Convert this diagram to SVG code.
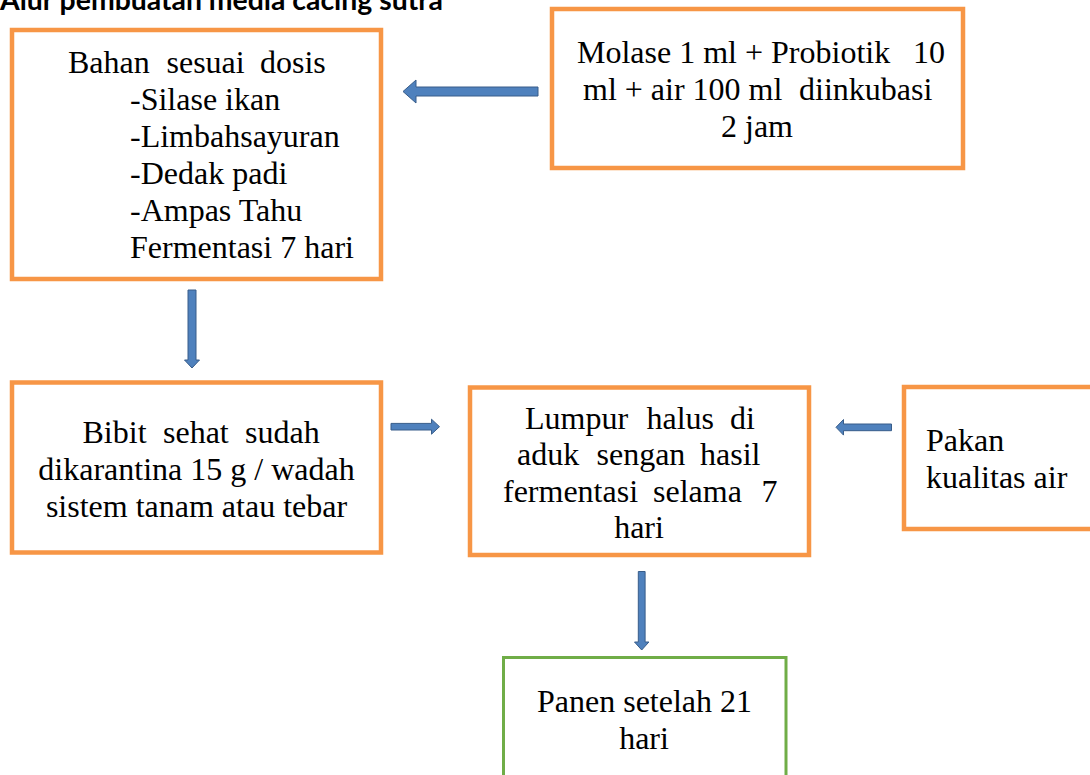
<svg xmlns="http://www.w3.org/2000/svg" width="1090" height="775" viewBox="0 0 1090 775">
<style>
.box{fill:#fff;stroke:#F79646;stroke-width:4.5}
.gbox{fill:#fff;stroke:#70AD47;stroke-width:3}
.t{font-family:"Liberation Serif","Times New Roman",serif;font-size:32px;fill:#000}
.c{text-anchor:middle}
.arr{fill:#4F81BD;stroke:#385D8A;stroke-width:1}
.title{font-family:Lato,"Open Sans",sans-serif;font-weight:bold;font-size:29px;fill:#000}
</style>
<rect width="1090" height="775" fill="#fff"/>
<text class="title" x="0" y="10" textLength="443" lengthAdjust="spacingAndGlyphs">Alur pembuatan media cacing sutra</text>

<g id="connectors">
<path class="arr" d="M538,87 L416,87 L416,80 L403,91.5 L416,103 L416,96 L538,96 Z"/>
<path class="arr" d="M188,290 L196,290 L196,360 L199.5,360 L192,368 L184.5,360 L188,360 Z"/>
<path class="arr" d="M391,423.4 L431.5,423.4 L431.5,419.2 L439.5,426.7 L431.5,434.2 L431.5,430 L391,430 Z"/>
<path class="arr" d="M891.5,424 L843.5,424 L843.5,419.5 L836,427.3 L843.5,435.1 L843.5,430.7 L891.5,430.7 Z"/>
<path class="arr" d="M638.3,571.5 L645.1,571.5 L645.1,642 L648.9,642 L641.7,650 L634.5,642 L638.3,642 Z"/>
</g>

<g id="node-bahan">
<rect class="box" x="12" y="30" width="369" height="249"/>
<text class="t" y="73"><tspan x="68">Bahan</tspan><tspan x="166.5">sesuai</tspan><tspan x="260">dosis</tspan></text>
<text class="t" x="130" y="110">-Silase ikan</text>
<text class="t" x="130" y="147">-Limbahsayuran</text>
<text class="t" x="130" y="184">-Dedak padi</text>
<text class="t" x="130" y="221">-Ampas Tahu</text>
<text class="t" x="130" y="258">Fermentasi 7 hari</text>
</g>

<g id="node-molase">
<rect class="box" x="552" y="9" width="411" height="159"/>
<text class="t" y="63"><tspan x="577">Molase 1 ml + Probiotik</tspan><tspan x="913">10</tspan></text>
<text class="t" y="100"><tspan x="583">ml + air 100 ml</tspan><tspan x="799">diinkubasi</tspan></text>
<text class="t c" x="757" y="137">2 jam</text>
</g>

<g id="node-bibit">
<rect class="box" x="12" y="382.5" width="369" height="170"/>
<text class="t" y="443"><tspan x="82.5">Bibit</tspan><tspan x="163">sehat</tspan><tspan x="245">sudah</tspan></text>
<text class="t c" x="196.5" y="480">dikarantina 15 g / wadah</text>
<text class="t c" x="196.5" y="517">sistem tanam atau tebar</text>
</g>

<g id="node-lumpur">
<rect class="box" x="470" y="387.5" width="339" height="167.5"/>
<text class="t" y="428.5"><tspan x="525">Lumpur</tspan><tspan x="646.5">halus</tspan><tspan x="730">di</tspan></text>
<text class="t" y="465"><tspan x="517">aduk</tspan><tspan x="596.5">sengan</tspan><tspan x="700">hasil</tspan></text>
<text class="t" y="501.5"><tspan x="503">fermentasi</tspan><tspan x="653">selama</tspan><tspan x="761.5">7</tspan></text>
<text class="t c" x="639" y="537.5">hari</text>
</g>

<g id="node-pakan">
<rect class="box" x="904" y="387" width="200" height="142"/>
<text class="t" x="926" y="451">Pakan</text>
<text class="t" x="926" y="487.5">kualitas air</text>
</g>

<g id="node-panen">
<rect class="gbox" x="503.5" y="657.5" width="282.5" height="140"/>
<text class="t c" x="644.5" y="712">Panen setelah 21</text>
<text class="t c" x="644" y="748.5">hari</text>
</g>
</svg>
